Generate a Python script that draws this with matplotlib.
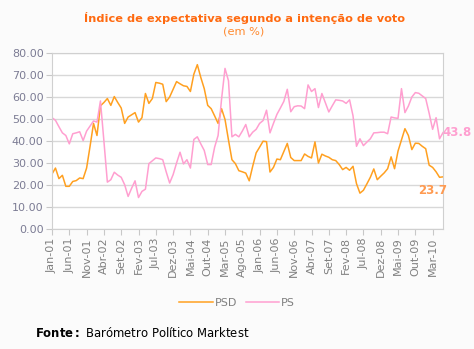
import matplotlib
matplotlib.use("Agg")
import matplotlib.pyplot as plt

# meses em português, série mensal de Jan-01 a Jun-10
meses_pt = ["Jan", "Fev", "Mar", "Abr", "Mai", "Jun",
            "Jul", "Ago", "Set", "Out", "Nov", "Dez"]
n_meses = 114
ano_inicio = 2001
passo_rotulos = 5

psd = [25.0, 27.7, 22.9, 24.4, 19.4, 19.4, 21.6, 22.0, 23.2, 22.9,
       27.7, 37.6, 48.0, 42.5, 56.0, 57.5, 59.3, 56.2, 60.2, 57.5,
       55.0, 48.0, 50.9, 51.9, 52.9, 48.6, 50.6, 61.6, 57.1, 59.3,
       66.6, 66.3, 65.8, 57.9, 60.0, 63.5, 67.0, 66.0, 65.1, 64.8,
       62.5, 70.4, 74.7, 68.9, 63.8, 56.2, 54.7, 51.4, 48.0, 54.7,
       49.8, 40.5, 31.5, 29.7, 26.5, 26.0, 25.4, 21.9, 28.5, 34.6,
       37.2, 39.9, 39.7, 25.9, 28.0, 31.8, 31.5, 35.2, 38.9, 32.5,
       31.1, 31.1, 31.1, 34.1, 33.0, 32.3, 39.6, 30.0, 34.0, 33.2,
       32.6, 31.5, 31.1, 29.3, 27.0, 28.0, 26.7, 28.5, 20.6, 16.3,
       17.6, 20.5, 23.5, 27.3, 22.4, 24.0, 25.5, 27.4, 32.8, 27.4,
       35.4, 40.5, 45.6, 42.5, 36.1, 39.0, 38.9, 37.6, 36.5, 29.0,
       28.0, 26.0, 23.5, 23.7]

ps = [50.6, 49.4, 46.5, 43.7, 42.5, 38.7, 43.3, 43.7, 44.2, 40.2,
      44.5, 46.8, 49.1, 48.6, 58.2, 40.0, 21.3, 22.4, 25.8, 24.5,
      23.5, 20.1, 14.8, 18.5, 21.9, 14.3, 17.1, 18.1, 29.7, 31.0,
      32.3, 32.0, 31.5, 26.0, 20.9, 24.7, 30.0, 34.9, 29.6, 31.5,
      27.7, 40.7, 41.9, 38.7, 35.7, 29.3, 29.3, 37.2, 42.5, 59.0,
      73.0, 67.4, 41.9, 43.0, 41.9, 44.5, 47.5, 41.9, 44.0, 45.3,
      48.0, 49.3, 54.0, 43.7, 48.0, 52.1, 55.0, 58.0, 63.5, 53.3,
      55.6, 56.0, 55.9, 54.7, 65.5, 62.5, 63.8, 55.2, 61.6, 57.4,
      53.2, 56.0, 58.7, 58.5, 58.2, 57.1, 58.7, 51.4, 37.6, 41.0,
      37.9, 39.5, 41.0, 43.7, 43.8, 44.0, 44.0, 43.3, 50.9, 50.5,
      50.3, 63.8, 52.9, 55.9, 60.0, 62.0, 61.7, 60.5, 59.3, 52.6,
      45.3, 50.6, 41.0, 43.8]

rotulos = [f"{meses_pt[i % 12]}-{(ano_inicio + i // 12) % 100:02d}" for i in range(n_meses)]
x = list(range(n_meses))

cor_psd = "#FFA020"
cor_ps = "#FF9FD0"
cinza = "#808080"

fig = plt.figure(figsize=(4.74, 3.49), dpi=100, facecolor="#FBFBFB")
ax = fig.add_axes([52 / 474, 1 - 229 / 349, 391 / 474, 176 / 349])
ax.set_facecolor("white")

ax.plot(x, psd, color=cor_psd, lw=1.1, label="PSD")
ax.plot(x, ps, color=cor_ps, lw=1.1, label="PS")

ax.set_xlim(0, n_meses - 1)
ax.set_ylim(0, 80)
ax.set_yticks(range(0, 81, 10))
ax.set_yticklabels([f"{v:.2f}" for v in range(0, 81, 10)], fontsize=8, color="#7C7C94")
ax.set_xticks(x[::passo_rotulos])
ax.set_xticklabels(rotulos[::passo_rotulos], rotation=90, fontsize=8, color=cinza)
ax.tick_params(axis="both", length=4, color="#C8C8C8", pad=2)
ax.grid(axis="y", color="#D8D8D8", lw=1)
ax.set_axisbelow(True)
for s in ax.spines.values():
    s.set_color("#D0D0D0")

# últimos valores
ax.text(x[-1] - 0.3, ps[-1], f"{ps[-1]:.1f}", color=cor_ps, fontsize=8.5,
        fontweight="bold", va="center", ha="left", clip_on=False)
ax.text(x[-1] + 1.2, psd[-1] - 6.2, f"{psd[-1]:.1f}", color="#FF9A50", fontsize=8.5,
        fontweight="bold", va="center", ha="right", clip_on=False)

fig.text(0.515, 1 - 18 / 349, "Índice de expectativa segundo a intenção de voto",
         color="#FF6A10", fontsize=8.2, fontweight="bold", ha="center", va="center")
fig.text(0.515, 1 - 32 / 349, "(em %)", color="#FF8A30", fontsize=8.2,
         ha="center", va="center")

fig.legend(loc="center", bbox_to_anchor=(0.5, 1 - 303 / 349), ncol=2, frameon=False,
           fontsize=8, labelcolor=cinza, handlelength=3.0, handletextpad=0.15,
           columnspacing=0.8)

fig.text(35 / 474, 1 - 333 / 349, r"$\bf{Fonte:}$ Barómetro Político Marktest",
         fontsize=8.4, color="black", va="center", ha="left")

fig.savefig("out.png", dpi=100, facecolor=fig.get_facecolor())
